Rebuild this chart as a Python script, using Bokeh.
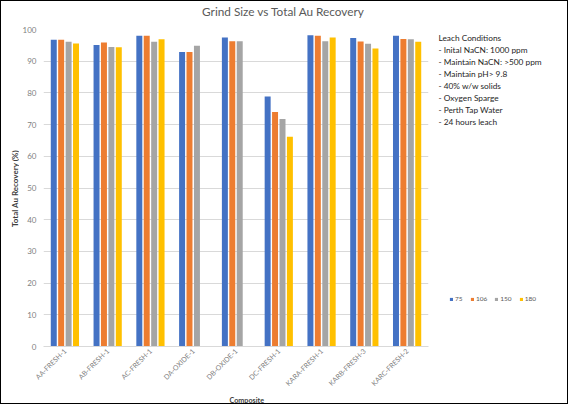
import math
from bokeh.plotting import figure
from bokeh.layouts import row, column
from bokeh.models import (ColumnDataSource, Range1d, FactorRange, Legend, LegendItem,
                          FixedTicker)
from bokeh.core.properties import value
from bokeh.transform import dodge
from bokeh.embed import file_html
from bokeh.resources import INLINE

composites = ["AA-FRESH-1", "AB-FRESH-1", "AC-FRESH-1", "DA-OXIDE-1", "DB-OXIDE-1",
              "DC-FRESH-1", "KARA-FRESH-1", "KARB-FRESH-3", "KARC-FRESH-2"]
nan = float("nan")
s75 = [96.8, 95.1, 98.0, 92.9, 97.5, 78.9, 98.2, 97.3, 98.0]
s106 = [96.8, 95.9, 98.0, 92.9, 96.3, 74.0, 98.0, 96.2, 97.0]
s150 = [96.1, 94.5, 96.1, 94.9, 96.3, 71.8, 96.3, 95.5, 96.9]
s180 = [95.6, 94.4, 96.9, nan, nan, 66.2, 97.5, 94.0, 96.1]
series_names = ["75", "106", "150", "180"]
colors = ["#4472C4", "#ED7D31", "#A5A5A5", "#FFC000"]
title_text = "Grind Size vs Total Au Recovery"
y_title = "Total Au Recovery (%)"
x_title = "Composite"
conditions = ["Leach Conditions", "- Inital NaCN: 1000 ppm", "- Maintain NaCN: >500 ppm",
              "- Maintain pH> 9.8", "- 40% w/w solids", "- Oxygen Sparge",
              "- Perth Tap Water", "- 24 hours leach"]

FONT = "Lato"
TOTAL_W, TOTAL_H = 566, 402
TITLE_H = 23
YLAB_W = 18
MAIN_W = 411
RIGHT_W = TOTAL_W - YLAB_W - MAIN_W
MID_H = TOTAL_H - TITLE_H
MAIN_H = 369
XLAB_H = MID_H - MAIN_H


def strip(w, h, x0, y0):
    f = figure(width=w, height=h, x_range=Range1d(x0, x0 + w), y_range=Range1d(y0 + h, y0),
               x_axis_type=None, y_axis_type=None, output_backend="svg", toolbar_location=None,
               title=None, min_border_left=0, min_border_right=0, min_border_top=0,
               min_border_bottom=0)
    f.outline_line_color = None
    f.grid.visible = False
    return f


# ---- title strip (figure-pixel coordinates) ----
tf = strip(TOTAL_W, TITLE_H, 0, 0)
tf.text(x=[282], y=[9.5], text=[title_text], text_font=value(FONT), text_font_size="11.8px",
        text_color="#595959", text_align="center", text_baseline="middle")

# ---- y-axis title strip ----
yf = strip(YLAB_W, MID_H, 0, TITLE_H)
yf.text(x=[13.5], y=[187], text=[y_title], text_font=value(FONT), text_font_size="8px",
        text_font_style="bold", text_color="#404040", text_align="center",
        text_baseline="middle", angle=math.pi / 2)

# ---- main chart ----
src = ColumnDataSource(dict(x=composites, s75=s75, s106=s106, s150=s150, s180=s180))
p = figure(x_range=FactorRange(*composites), y_range=Range1d(0, 100), title=None,
           width=MAIN_W, height=MAIN_H, output_backend="svg", toolbar_location=None,
           min_border_left=23, min_border_right=2, min_border_top=5,
           min_border_bottom=MAIN_H - 5 - 317)
p.outline_line_color = None

offsets = [-0.26, -0.087, 0.087, 0.26]
cols = ["s75", "s106", "s150", "s180"]
for c, off, col in zip(cols, offsets, colors):
    p.vbar(x=dodge("x", off, range=p.x_range), top=c, width=0.14, bottom=0,
           source=src, fill_color=col, line_color=None)

p.xgrid.grid_line_color = None
p.ygrid.grid_line_color = "#d9d9d9"
p.ygrid.grid_line_width = 1
for ax in (p.xaxis, p.yaxis):
    ax.major_tick_line_color = None
    ax.minor_tick_line_color = None
    ax.major_tick_out = 0
    ax.major_tick_in = 0
    ax.minor_tick_out = 0
    ax.minor_tick_in = 0
p.yaxis.ticker = FixedTicker(ticks=list(range(0, 101, 10)))
p.yaxis.axis_line_color = None
p.yaxis.major_label_text_font = FONT
p.yaxis.major_label_text_font_size = "8px"
p.yaxis.major_label_text_color = "#7f7f7f"
p.yaxis.major_label_standoff = 7

p.xaxis.axis_line_color = "#d9d9d9"
p.xaxis.major_label_orientation = math.pi / 4
p.xaxis.major_label_text_font = FONT
p.xaxis.major_label_text_font_size = "7px"
p.xaxis.major_label_text_color = "#7f7f7f"
p.xaxis.major_label_standoff = 3

# ---- x-axis title strip ----
xf = strip(MAIN_W, XLAB_H, YLAB_W, TITLE_H + MAIN_H)
xf.text(x=[235], y=[396.5], text=[x_title], text_font=value(FONT), text_font_size="7.2px",
        text_font_style="bold", text_color="#404040", text_align="center",
        text_baseline="middle")

# ---- right side: leach conditions + legend ----
rf = strip(RIGHT_W, MID_H, YLAB_W + MAIN_W, TITLE_H)
cond_y = [36 + 12 * i for i in range(len(conditions))]
rf.text(x=[437] * len(conditions), y=cond_y, text=conditions, text_font=value(FONT),
        text_font_size="8.3px", text_color="#262626", text_align="left", text_baseline="middle")

items = []
for n, col in zip(series_names, colors):
    dummy = ColumnDataSource(dict(x=[nan], top=[nan]))
    r = rf.vbar(x="x", top="top", width=1, source=dummy, fill_color=col, line_color=None)
    items.append(LegendItem(label=n, renderers=[r]))
legend = Legend(items=items, location=(19, 101), orientation="horizontal",
                glyph_width=4, glyph_height=4, label_standoff=2, spacing=7,
                label_text_font=FONT, label_text_font_size="6.5px", label_text_color="#595959",
                padding=0, margin=0, border_line_color=None, background_fill_alpha=0,
                label_height=6, label_width=8)
rf.add_layout(legend)

layout = column(tf, row(yf, column(p, xf), rf), styles={"border": "1px solid #000000"})
open("out.html", "w").write(file_html(layout, INLINE))
